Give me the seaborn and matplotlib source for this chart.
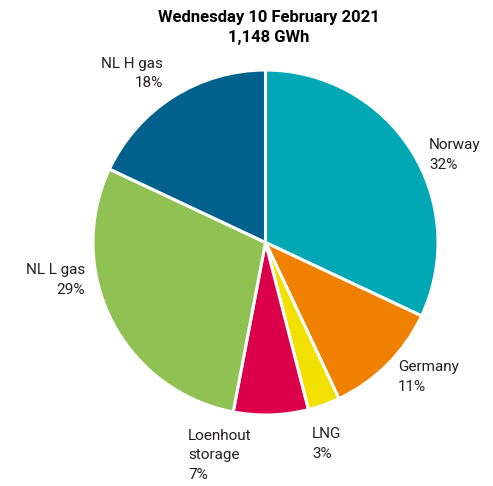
import matplotlib
matplotlib.use("Agg")
import matplotlib.pyplot as plt
import seaborn as sns

# Gas supply by source
sources = ["Norway", "Germany", "LNG", "Loenhout\nstorage", "NL L gas", "NL H gas"]
shares = [32, 11, 3, 7, 29, 18]
colors = ["#00a8b5", "#f08000", "#f2e100", "#db0049", "#8fc153", "#00628c"]

title_date = "Wednesday 10 February 2021"
title_total = "1,148 GWh"

# label anchors (data units, pie radius = 1) and alignment
label_pos = [(0.948, 0.507), (0.768, -0.780), (0.270, -1.168),
             (-0.449, -1.232), (-1.046, -0.217), (-0.594, 0.980)]
label_ha = ["left", "left", "left", "left", "right", "right"]

sns.set_theme(style="white")
plt.rcParams["font.family"] = ["Roboto", "DejaVu Sans"]

W, H = 493, 486
cx, cy, R = 265.5, 242.5, 172.5
fig = plt.figure(figsize=(W / 100, H / 100), dpi=100)
ax = fig.add_axes([0, 0, 1, 1])

palette = sns.color_palette(colors)
ax.pie(shares, colors=palette, startangle=90, counterclock=False,
       wedgeprops=dict(edgecolor="white", linewidth=2.2))
ax.set_aspect("auto")
ax.set_xlim(-cx / R, (W - cx) / R)
ax.set_ylim(-(H - cy) / R, cy / R)
ax.axis("off")

for name, val, (x, y), ha in zip(sources, shares, label_pos, label_ha):
    ax.text(x, y, f"{name}\n{val}%", ha=ha, va="center", multialignment=ha,
            fontsize=11, color="#231f20", linespacing=1.5)

fig.text(269 / W, 1 - 10 / H, f"{title_date}\n{title_total}", ha="center", va="top",
         fontsize=12, fontweight="bold", color="black", linespacing=1.45)

fig.savefig("out.png", dpi=100, facecolor="white")
